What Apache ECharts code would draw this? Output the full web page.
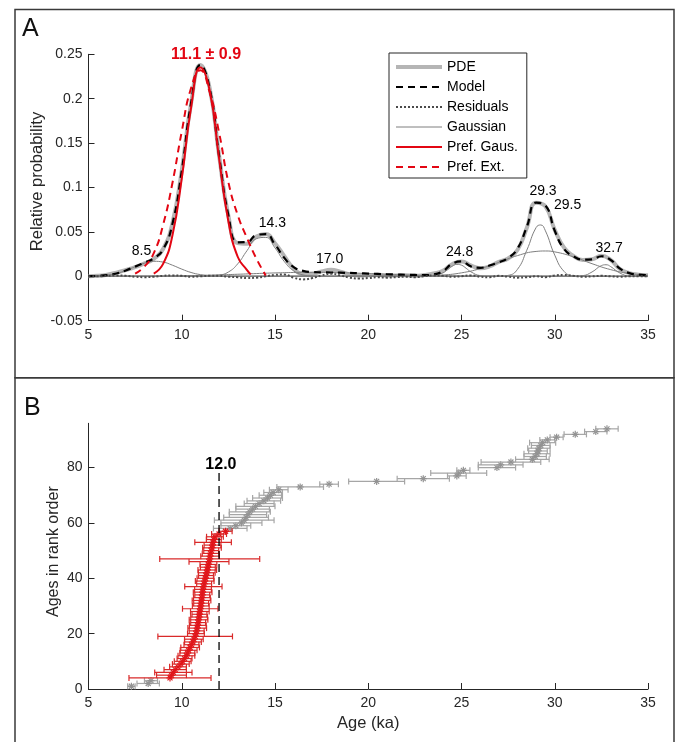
<!DOCTYPE html>
<html><head><meta charset="utf-8">
<script src="https://cdn.jsdelivr.net/npm/echarts@6/dist/echarts.min.js"></script>
<style>html,body{margin:0;padding:0;background:#fff}#c{width:676px;height:742px}</style>
</head><body><div id="c"></div>
<script>
// ---------- Panel A data ----------
const X_GRID = [5,5.5,6,6.5,7,7.5,8,8.5,9,9.5,
  10,10.5,11,11.5,12,12.5,13,13.5,14,14.5,
  15,15.5,16,16.5,17,17.5,18,18.5,19,19.5,
  20,20.5,21,21.5,22,22.5,23,23.5,24,24.5,
  25,25.5,26,26.5,27,27.5,28,28.5,29,29.5,
  30,30.5,31,31.5,32,32.5,33,33.5,34,34.5,35];
const PDE = [0.0001,0.0005,0.0018,0.0042,0.0071,0.0104,0.0145,0.0197,0.0308,0.0599,
  0.1192,0.1946,0.2379,0.2117,0.1365,0.0684,0.0373,0.0366,0.0449,0.0475,
  0.0373,0.0227,0.0089,0.0026,0.0028,0.0055,0.0073,0.0051,0.0023,0.0010,
  0.0011,0.0017,0.0008,0.0010,0.0012,0.0005,0.0014,0.0031,0.0063,0.0136,
  0.0167,0.0122,0.0091,0.0111,0.0163,0.0201,0.0296,0.0545,0.0829,0.0787,
  0.0523,0.0322,0.0230,0.0183,0.0191,0.0231,0.0184,0.0081,0.0036,0.0019,0.0011];
const MODEL = [0.0001,0.0005,0.0013,0.0032,0.0066,0.0109,0.0155,0.0202,0.0303,0.0589,
  0.1187,0.1951,0.2379,0.2112,0.1360,0.0689,0.0383,0.0386,0.0464,0.0475,
  0.0358,0.0207,0.0104,0.0061,0.0048,0.0045,0.0043,0.0041,0.0038,0.0035,
  0.0031,0.0027,0.0023,0.0020,0.0017,0.0015,0.0014,0.0021,0.0058,0.0141,
  0.0167,0.0112,0.0096,0.0121,0.0158,0.0206,0.0311,0.0555,0.0829,0.0797,
  0.0513,0.0307,0.0225,0.0188,0.0191,0.0226,0.0184,0.0086,0.0036,0.0019,0.0011];
const RESID = [0,0,0.0005,0.001,0.0005,-0.0005,-0.001,-0.0005,0.0005,0.001,
  0.0005,-0.0005,0,0.0005,0.0005,-0.0005,-0.001,-0.002,-0.0015,0,
  0.0015,0.002,-0.0015,-0.0035,-0.002,0.001,0.003,0.001,-0.0015,-0.0025,
  -0.002,-0.001,-0.0015,-0.001,-0.0005,-0.001,0,0.001,0.0005,-0.0005,
  0,0.001,-0.0005,-0.001,0.0005,-0.0005,-0.0015,-0.001,0,-0.001,
  0.001,0.0015,0.0005,-0.0005,0,0.0005,0,-0.0005,0,0,0];

// Gaussian components
const G1_X = [5,5.5,6,6.5,7,7.5,8,8.5,9,9.5,10,10.5,11,11.5,12,12.5,35];
const G1_Y = [0.0001,0.0005,0.0013,0.0032,0.0065,0.0108,0.0148,0.0169,0.016,0.0125,0.0081,0.0043,0.0019,0.0007,0.0002,0,0];
const G3_X = [5,11,11.5,12,12.5,13,13.5,14,14.5,15,15.5,16,16.5,17,17.5,35];
const G3_Y = [0,0,0.0002,0.0012,0.0048,0.014,0.0289,0.0423,0.0438,0.032,0.0166,0.0061,0.0016,0.0003,0,0];
const GB_X = [5,8,9,10,11,12,13,14,15,16,17,18,19,20,21,22,23,24,25,26,27,35];
const GB_Y = [0,0.0002,0.0003,0.0006,0.001,0.0016,0.0023,0.0031,0.0038,0.0043,0.0045,0.0043,0.0038,0.0031,0.0023,0.0016,0.001,0.0006,0.0003,0.0002,0.0001,0];
const G5_X = [5,23,23.5,24,24.25,24.5,24.75,25,25.25,25.5,26,26.5,35];
const G5_Y = [0,0,0.0005,0.0038,0.0074,0.0113,0.0134,0.0125,0.009,0.0051,0.0008,0.0001,0];
const G6_X = [5,27,27.5,28,28.5,29,29.25,29.5,30,30.5,31,31.5,35];
const G6_Y = [0,0.0001,0.001,0.0078,0.0293,0.0549,0.0578,0.0512,0.0238,0.0055,0.0006,0,0];
const G7_X = [5,22,23,24,25,26,27,28,29,29.5,30,31,32,33,34,35];
const G7_Y = [0,0.0001,0.0004,0.0014,0.0039,0.0086,0.0157,0.0233,0.028,0.0285,0.0275,0.0219,0.0142,0.0075,0.0032,0.0011];
const G8_X = [5,31,31.5,32,32.5,32.75,33,33.5,34,34.5,35];
const G8_Y = [0,0,0.0007,0.0049,0.012,0.013,0.0109,0.0036,0.0004,0,0];

// Preferred Gaussian and extended
const PG_X = [8.5,9,9.5,10,10.5,11,11.5,12,12.5,13,13.5,13.7];
const PG_Y = [0.003,0.014,0.046,0.110,0.190,0.235,0.209,0.133,0.062,0.022,0.007,0.002];
const PE_X = [7.5,8,8.5,9,9.5,10,10.5,11,11.5,12,12.5,13,13.5,14,14.5];
const PE_Y = [0.003,0.011,0.026,0.058,0.105,0.163,0.212,0.232,0.207,0.162,0.106,0.069,0.043,0.020,0.001];

const PEAK_TEXT = ['8.5','14.3','17.0','24.8','29.3','29.5','32.7'];
const PEAK_AT = [[7.84,0.0278],[14.86,0.0599],[17.93,0.0195],[24.9,0.027],[29.37,0.0954],[30.69,0.0796],[32.92,0.0318]];
const PREF_TEXT = '11.1 ± 0.9';
const PREF_AT = [11.3, 0.2497];

const X_TICKS_A = [5, 35, 5];      // min, max, interval
const Y_TICKS_A = [-0.05, 0.25, 0.05];

// ---------- Panel B data ----------
const AGES = [7.3, 8.2, 8.35,
  9.37, 9.45, 9.55, 9.65, 9.8, 9.95, 10.05, 10.15, 10.25, 10.3,
  10.37, 10.45, 10.52, 10.6, 10.65, 10.72, 10.76, 10.8, 10.83, 10.86,
  10.88, 10.9, 10.93, 10.95, 10.97, 10.99, 11.02, 11.04, 11.06, 11.08,
  11.1, 11.12, 11.14, 11.16, 11.2, 11.23, 11.27, 11.3, 11.34, 11.37,
  11.4, 11.43, 11.46, 11.5, 11.52, 11.55, 11.58, 11.62, 11.65, 11.68,
  11.72, 11.78, 12.0, 12.35,
  12.6, 12.9, 13.2, 13.35, 13.45, 13.55, 13.65, 13.8, 13.95, 14.15,
  14.4, 14.6, 14.75, 14.9, 15.2, 16.35, 17.9, 20.45, 22.95, 24.75,
  24.85, 25.1, 26.9, 27.1, 27.65, 28.8, 28.95, 29.05, 29.1, 29.15,
  29.25, 29.35, 29.6, 30.1, 31.1, 32.2, 32.8];
const ERRS = [0.2, 0.6, 0.35,
  2.2, 0.8, 1.0, 0.6, 0.45, 0.45, 0.45, 0.4, 0.45, 0.4,
  0.45, 0.5, 0.4, 0.45, 0.5, 2.0, 0.45, 0.4, 0.5, 0.45,
  0.4, 0.5, 0.45, 0.4, 0.5, 0.95, 0.45, 0.4, 0.5, 0.45,
  0.4, 0.5, 0.45, 1.0, 0.4, 0.5, 0.45, 0.4, 0.45, 0.5,
  0.4, 0.45, 1.07, 2.68, 0.5, 0.45, 0.4, 0.5, 0.45, 0.98,
  0.4, 0.45, 0.4, 0.35,
  0.9, 0.8, 1.1, 1.6, 1.2, 1.0, 1.1, 0.9, 1.05, 0.8,
  0.9, 0.8, 0.6, 0.5, 0.5, 1.25, 0.5, 1.5, 1.4, 0.5,
  1.5, 0.35, 1.0, 1.2, 1.6, 0.9, 0.6, 0.7, 0.5, 0.6,
  0.5, 0.7, 0.4, 0.35, 0.6, 0.6, 0.6];
const PREF_RANKS = [4, 57];   // ranks shown in red
const THRESH_AGE = 12.0;
const THRESH_TOP = 78.6;
const THRESH_TEXT = '12.0';
const THRESH_LABEL_AT = [12.1, 81.2];
const Y_TICKS_B = [0, 20, 40, 60, 80];
const Y_MAX_B = 96;

// ---------- styling ----------
const FONT = "'Liberation Sans', Arial, Helvetica, sans-serif";
const AX = '#262626';
const RED = '#e30613';

const pairs = (xs, ys) => xs.map((x, i) => [x, ys[i]]);

function lineSeries(name, data, style, z) {
  return {
    name, type: 'line', xAxisIndex: 0, yAxisIndex: 0, data,
    smooth: true, symbol: 'none', showSymbol: false, z: z,
    itemStyle: {color: style.color, opacity: 0},
    lineStyle: style, emphasis: {disabled: true}, silent: true
  };
}

const gaussStyle = {color: '#7f7f7f', width: 1};
const series = [
  lineSeries('PDE', pairs(X_GRID, PDE), {color: '#b5b5b5', width: 4}, 2),
  lineSeries('Gaussian', pairs(G1_X, G1_Y), gaussStyle, 3),
  lineSeries('Gaussian', pairs(G3_X, G3_Y), gaussStyle, 3),
  lineSeries('Gaussian', pairs(GB_X, GB_Y), gaussStyle, 3),
  lineSeries('Gaussian', pairs(G5_X, G5_Y), gaussStyle, 3),
  lineSeries('Gaussian', pairs(G6_X, G6_Y), gaussStyle, 3),
  lineSeries('Gaussian', pairs(G7_X, G7_Y), gaussStyle, 3),
  lineSeries('Gaussian', pairs(G8_X, G8_Y), gaussStyle, 3),
  lineSeries('Model', pairs(X_GRID, MODEL), {color: '#000', width: 2.2, type: [7, 5]}, 4),
  lineSeries('Residuals', pairs(X_GRID, RESID), {color: '#4a4a4a', width: 2, type: [2, 2]}, 4),
  lineSeries('Pref. Gaus.', pairs(PG_X, PG_Y), {color: RED, width: 2}, 5),
  lineSeries('Pref. Ext.', pairs(PE_X, PE_Y), {color: RED, width: 2, type: [7, 5]}, 5),
  {
    type: 'scatter', xAxisIndex: 0, yAxisIndex: 0, symbolSize: 0, silent: true, z: 6,
    itemStyle: {color: 'rgba(0,0,0,0)', opacity: 1},
    data: PEAK_AT.map((p, i) => ({value: p, name: PEAK_TEXT[i]})),
    label: {show: true, position: 'inside', formatter: p => p.name, opacity: 1,
      fontFamily: FONT, fontSize: 14, color: '#000'}
  },
  {
    type: 'scatter', xAxisIndex: 0, yAxisIndex: 0, symbolSize: 0, silent: true, z: 6,
    itemStyle: {color: 'rgba(0,0,0,0)', opacity: 1},
    data: [{value: PREF_AT, name: PREF_TEXT}],
    label: {show: true, position: 'inside', formatter: p => p.name, opacity: 1,
      fontFamily: FONT, fontSize: 16, fontWeight: 'bold', color: RED}
  }
];

function errRender(markColor, barColor) {
  return function (params, api) {
    const a = api.value(0), r = api.value(1), e = api.value(2);
    const L = api.coord([a - e, r]), R = api.coord([a + e, r]), C = api.coord([a, r]);
    const bs = {stroke: barColor, lineWidth: 1.2, fill: null};
    const ms = {stroke: markColor, lineWidth: 1.2, fill: null};
    const h = 3, s = 3.5, d = 2.5;
    return {type: 'group', children: [
      {type: 'line', shape: {x1: L[0], y1: L[1], x2: R[0], y2: R[1]}, style: bs},
      {type: 'line', shape: {x1: L[0], y1: L[1] - h, x2: L[0], y2: L[1] + h}, style: bs},
      {type: 'line', shape: {x1: R[0], y1: R[1] - h, x2: R[0], y2: R[1] + h}, style: bs},
      {type: 'line', shape: {x1: C[0] - s, y1: C[1], x2: C[0] + s, y2: C[1]}, style: ms},
      {type: 'line', shape: {x1: C[0], y1: C[1] - s, x2: C[0], y2: C[1] + s}, style: ms},
      {type: 'line', shape: {x1: C[0] - d, y1: C[1] - d, x2: C[0] + d, y2: C[1] + d}, style: ms},
      {type: 'line', shape: {x1: C[0] - d, y1: C[1] + d, x2: C[0] + d, y2: C[1] - d}, style: ms}
    ]};
  };
}
const allB = AGES.map((a, i) => [a, i + 1, ERRS[i]]);
const redB = allB.filter(d => d[1] >= PREF_RANKS[0] && d[1] <= PREF_RANKS[1]);
const grayB = allB.filter(d => d[1] < PREF_RANKS[0] || d[1] > PREF_RANKS[1]);

series.push(
  {type: 'custom', xAxisIndex: 1, yAxisIndex: 1, coordinateSystem: 'cartesian2d',
   data: grayB, encode: {x: 0, y: 1}, renderItem: errRender('#939393', '#a6a6a6'), z: 2, silent: true},
  {type: 'custom', xAxisIndex: 1, yAxisIndex: 1, coordinateSystem: 'cartesian2d',
   data: redB, encode: {x: 0, y: 1}, renderItem: errRender('#e0161b', '#d92a2a'), z: 3, silent: true},
  {type: 'line', xAxisIndex: 1, yAxisIndex: 1, symbol: 'none', silent: true, z: 4,
   data: [[THRESH_AGE, 0], [THRESH_AGE, THRESH_TOP]],
   lineStyle: {color: '#000', width: 1.3, type: [8, 5]}},
  {type: 'scatter', xAxisIndex: 1, yAxisIndex: 1, symbolSize: 0, silent: true, z: 5,
   itemStyle: {color: 'rgba(0,0,0,0)', opacity: 1},
   data: [{value: THRESH_LABEL_AT, name: THRESH_TEXT}],
   label: {show: true, position: 'inside', formatter: p => p.name, opacity: 1,
     fontFamily: FONT, fontSize: 16, fontWeight: 'bold', color: '#000'}}
);

function xAxisCfg(grid, extra) {
  return Object.assign({
    gridIndex: grid, type: 'value', min: X_TICKS_A[0], max: X_TICKS_A[1], interval: X_TICKS_A[2],
    axisLine: {show: true, onZero: false, lineStyle: {color: AX, width: 1}},
    axisTick: {show: true, inside: true, length: 6, lineStyle: {color: AX}},
    axisLabel: {color: AX, fontSize: 14, fontFamily: FONT, margin: 7},
    splitLine: {show: false}
  }, extra || {});
}

const option = {
  animation: false,
  backgroundColor: '#fff',
  grid: [
    {left: 88.5, width: 559.5, top: 54.3, height: 266.4},
    {left: 88.5, width: 559.5, top: 423.3, height: 265.7}
  ],
  legend: {
    data: ['PDE', 'Model', 'Residuals', 'Gaussian', 'Pref. Gaus.', 'Pref. Ext.'],
    orient: 'vertical', left: 389, top: 53,
    itemWidth: 46, itemHeight: 14, itemGap: 6,
    padding: [7, 9, 4, 5],
    borderColor: AX, borderWidth: 1, backgroundColor: '#fff',
    selectedMode: false,
    itemStyle: {color: 'rgba(0,0,0,0)', borderColor: 'rgba(0,0,0,0)', borderWidth: 0, opacity: 0},
    lineStyle: {width: 'inherit'},
    textStyle: {fontFamily: FONT, fontSize: 14, color: '#000'}
  },
  xAxis: [
    xAxisCfg(0),
    xAxisCfg(1, {name: 'Age (ka)', nameLocation: 'middle', nameGap: 26, nameMoveOverlap: false,
      nameTextStyle: {fontFamily: FONT, fontSize: 16.5, color: AX}})
  ],
  yAxis: [
    {gridIndex: 0, type: 'value', min: Y_TICKS_A[0], max: Y_TICKS_A[1], interval: Y_TICKS_A[2],
     name: 'Relative probability', nameLocation: 'middle', nameGap: 43, nameMoveOverlap: false,
     nameTextStyle: {fontFamily: FONT, fontSize: 16.5, color: AX, padding: [0, 0, 0, 12]},
     axisLine: {show: true, onZero: false, lineStyle: {color: AX, width: 1}},
     axisTick: {show: true, inside: true, length: 6, lineStyle: {color: AX}},
     axisLabel: {color: AX, fontSize: 14, fontFamily: FONT, margin: 6},
     splitLine: {show: false}},
    {gridIndex: 1, type: 'value', min: 0, max: Y_MAX_B,
     name: 'Ages in rank order', nameLocation: 'middle', nameGap: 27, nameMoveOverlap: false,
     nameTextStyle: {fontFamily: FONT, fontSize: 16, color: AX, padding: [0, 0, 0, 9]},
     axisLine: {show: true, onZero: false, lineStyle: {color: AX, width: 1}},
     axisTick: {show: true, inside: true, length: 6, lineStyle: {color: AX}, customValues: Y_TICKS_B},
     axisLabel: {color: AX, fontSize: 14, fontFamily: FONT, margin: 6, customValues: Y_TICKS_B},
     splitLine: {show: false}}
  ],
  graphic: [
    {type: 'rect', shape: {x: 15, y: 9.5, width: 659, height: 368.2}, silent: true,
     style: {fill: null, stroke: '#3a3a3a', lineWidth: 1.5}},
    {type: 'rect', shape: {x: 15, y: 377.7, width: 659, height: 380}, silent: true,
     style: {fill: null, stroke: '#3a3a3a', lineWidth: 1.5}},
    {type: 'text', x: 22, y: 29.5, silent: true,
     style: {text: 'A', fontFamily: FONT, fontSize: 25, fill: '#111', align: 'left', verticalAlign: 'middle'}},
    {type: 'text', x: 24, y: 408.5, silent: true,
     style: {text: 'B', fontFamily: FONT, fontSize: 25, fill: '#111', align: 'left', verticalAlign: 'middle'}}
  ],
  series
};

const chart = echarts.init(document.getElementById('c'), null, {renderer: 'canvas'});
chart.setOption(option);
</script>
</body></html>
